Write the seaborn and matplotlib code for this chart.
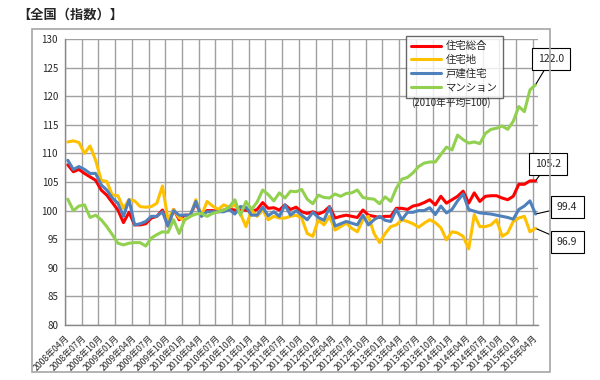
#  全国 不動産価格指数 (2010年平均=100) — monthly index chart

# ── Imports ──────────────────────────────────────────────────
import numpy as np
import pandas as pd
import matplotlib
matplotlib.use("Agg")
import matplotlib.pyplot as plt
import seaborn as sns

# ── Data ─────────────────────────────────────────────────────
months = pd.date_range("2008-04-01", "2015-04-01", freq="MS")
month_labels = [f"{d.year}年{d.month:02d}月" for d in months]

series_names = ["住宅総合", "住宅地", "戸建住宅", "マンション"]
series_colors = ["#FF0000", "#FFC000", "#4F81BD", "#92D050"]

housing_total = [
    108.0, 106.8, 107.2, 106.5, 105.9, 105.3, 103.6, 102.7, 101.4, 100.1,
    97.9, 99.7, 97.5, 97.5, 97.7, 98.7, 99.0, 100.1, 97.3, 100.2,
    98.4, 99.2, 99.2, 101.3, 99.2, 100.0, 100.0, 99.8, 100.1, 100.2,
    100.1, 100.1, 100.1, 99.8, 100.2, 101.4, 100.4, 100.5, 100.1, 101.0,
    100.2, 100.6, 99.8, 99.5, 99.8, 99.4, 99.8, 100.7, 98.7, 99.0,
    99.2, 99.0, 98.8, 100.1, 99.2, 99.0, 98.8, 99.0, 99.0, 100.4,
    100.4, 100.2, 100.8, 101.0, 101.4, 101.9, 101.0, 102.5, 101.3, 101.9,
    102.5, 103.4, 101.3, 103.1, 101.6, 102.5, 102.6, 102.6, 102.2, 101.9,
    102.5, 104.6, 104.6, 105.2, 105.2,
]
residential_land = [
    112.0, 112.2, 111.9, 110.0, 111.3, 108.8, 105.3, 105.1, 102.7, 102.6,
    100.4, 101.9, 101.7, 100.7, 100.6, 100.7, 101.3, 104.3, 98.4, 100.2,
    98.7, 98.4, 99.0, 101.9, 99.0, 101.6, 100.8, 100.2, 101.0, 100.6,
    101.0, 99.5, 97.2, 100.1, 99.0, 100.1, 98.4, 99.0, 98.7, 98.7,
    99.0, 99.2, 98.7, 96.0, 95.5, 98.4, 97.5, 99.0, 96.6, 97.2,
    97.8, 96.9, 96.3, 98.4, 99.0, 96.0, 94.4, 96.0, 97.2, 97.5,
    98.4, 98.1, 97.7, 97.1, 97.8, 98.4, 97.9, 97.0, 94.9, 96.3,
    96.1, 95.5, 93.3, 99.3, 97.2, 97.2, 97.5, 98.4, 95.5, 96.1,
    98.1, 98.7, 99.0, 96.3, 96.9,
]
detached_house = [
    108.8, 107.2, 107.7, 107.2, 106.5, 106.5, 104.5, 103.6, 102.2, 101.3,
    99.0, 101.9, 97.5, 97.7, 98.1, 99.0, 99.0, 99.8, 97.3, 100.0,
    99.2, 99.2, 99.2, 101.6, 99.0, 99.8, 99.8, 99.8, 99.8, 100.2,
    99.4, 100.7, 100.6, 99.2, 99.2, 100.6, 99.1, 99.8, 99.0, 101.0,
    99.2, 100.0, 99.2, 98.4, 99.7, 98.8, 98.3, 100.6, 97.3, 97.7,
    98.1, 97.8, 97.5, 99.2, 97.5, 98.4, 99.0, 98.3, 98.1, 100.2,
    98.4, 99.7, 99.7, 100.0, 100.0, 100.5, 99.3, 100.8, 99.6, 100.2,
    101.7, 102.9, 100.2, 99.9, 99.6, 99.5, 99.4, 99.2, 99.0, 98.8,
    98.5, 100.2, 100.8, 101.7, 99.4,
]
condominium = [
    102.0, 100.0, 100.8, 101.0, 98.8, 99.2, 98.4, 97.2, 95.8, 94.3,
    94.0, 94.3, 94.4, 94.4, 93.8, 95.2, 95.8, 96.3, 96.2, 98.4,
    96.0, 98.4, 99.0, 99.4, 99.5, 99.0, 99.5, 99.8, 100.1, 100.6,
    101.9, 99.2, 101.6, 100.2, 101.5, 103.6, 102.8, 101.7, 103.1, 102.2,
    103.4, 103.3, 103.7, 102.0, 101.2, 102.7, 102.3, 102.2, 102.9, 102.5,
    103.0, 103.1, 103.6, 102.3, 102.1, 102.0, 101.2, 102.4, 101.6, 103.9,
    105.5, 105.8, 106.6, 107.7, 108.3, 108.5, 108.5, 109.8, 111.1, 110.6,
    113.2, 112.4, 111.8, 112.0, 111.7, 113.5, 114.2, 114.4, 114.8, 114.2,
    115.6, 118.2, 117.3, 121.1, 122.0,
]

df = pd.DataFrame({
    "idx": np.arange(len(months)),
    series_names[0]: housing_total,
    series_names[1]: residential_land,
    series_names[2]: detached_house,
    series_names[3]: condominium,
})
long = df.melt(id_vars="idx", var_name="series", value_name="value")

# ── Style ────────────────────────────────────────────────────
sns.set_style("white")
plt.rcParams["font.family"] = ["Noto Sans CJK JP", "DejaVu Sans"]

fig = plt.figure(figsize=(6, 3.8), dpi=100)
ax = fig.add_axes([65 / 600, 1 - 325 / 380, (538.3 - 65) / 600, (325 - 39) / 380])

sns.lineplot(data=long, x="idx", y="value", hue="series",
             hue_order=series_names, palette=series_colors,
             linewidth=2.2, ax=ax)

# ── Axes ─────────────────────────────────────────────────────
ax.set_xlim(-0.5, len(months) - 0.5)
ax.set_ylim(80, 130)
ax.set_yticks(range(80, 131, 5))
ax.set_xticks(np.arange(0, len(months), 3) - 0.5)
ax.set_xticklabels(month_labels[::3], rotation=45, ha="right",
                   rotation_mode="anchor", fontsize=6.3)
ax.tick_params(axis="y", labelsize=7, length=3, color="#888888", pad=2)
ax.tick_params(axis="x", length=3, color="#888888", pad=3)
ax.set_xlabel("")
ax.set_ylabel("")
ax.grid(True, color="#a0a0a0", linewidth=1.0)
ax.set_axisbelow(True)
for side in ["top", "right"]:
    ax.spines[side].set_visible(False)
for side in ["left", "bottom"]:
    ax.spines[side].set_color("#888888")
    ax.spines[side].set_linewidth(1.0)

# ── Legend ───────────────────────────────────────────────────
handles, labels = ax.get_legend_handles_labels()
leg = ax.legend(handles, labels, loc="upper left",
                bbox_to_anchor=(401 / 600, 1 - 31 / 380),
                bbox_transform=fig.transFigure, fontsize=7.5,
                frameon=True, fancybox=False, handlelength=2.8,
                labelspacing=0.35, borderpad=0.5, handletextpad=0.5)
leg.get_frame().set_edgecolor("#444444")
leg.get_frame().set_linewidth(1.0)
for line in leg.get_lines():
    line.set_linewidth(2.2)

fig.text(451 / 600, 1 - 103 / 380, "(2010年平均=100)", ha="center",
         va="center", fontsize=7)

# ── Title + outer frame ──────────────────────────────────────
fig.text(17 / 600, 1 - 15 / 380, "【全国（指数）】", ha="left", va="center",
         fontsize=9.5, fontweight="bold")
fig.add_artist(plt.Rectangle((32 / 600, 1 - 372 / 380), (550 - 32) / 600,
                             (372 - 29) / 380, transform=fig.transFigure,
                             fill=False, edgecolor="#a6a6a6", linewidth=1.2))

# ── Last-value callouts ──────────────────────────────────────
last = len(months) - 1
callouts = [
    (condominium[-1], (551, 380 - 59)),
    (housing_total[-1], (548, 380 - 164)),
    (detached_house[-1], (567, 380 - 207)),
    (residential_land[-1], (567, 380 - 242)),
]
for val, pos in callouts:
    ax.annotate(f"{val:.1f}", xy=(last, val), xytext=pos,
                textcoords="figure pixels", ha="center", va="center",
                fontsize=7.5,
                bbox=dict(boxstyle="square,pad=0.6", fc="white",
                          ec="black", lw=0.8),
                arrowprops=dict(arrowstyle="-", color="black", lw=0.8,
                                shrinkA=0, shrinkB=1))

fig.savefig("out.png", dpi=100)
